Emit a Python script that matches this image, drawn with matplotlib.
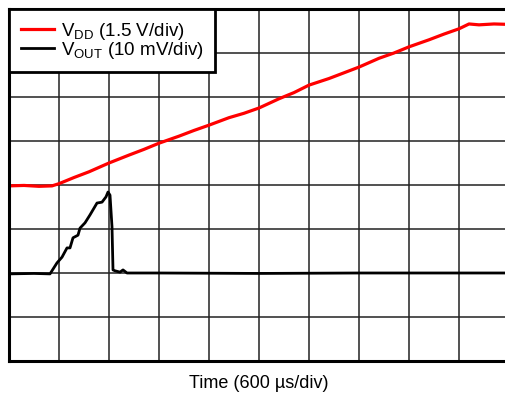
import numpy as np
import matplotlib.pyplot as plt

plt.rcParams['font.family'] = ['Liberation Sans', 'DejaVu Sans']
plt.rcParams['mathtext.fontset'] = 'custom'
plt.rcParams['mathtext.rm'] = 'Liberation Sans'

# Scope traces, in divisions (x: 10 div, y: 8 div)
vdd_t = [0.0, 0.3, 0.6, 0.86, 1.0, 1.3, 1.6, 2.0, 2.4, 2.7, 3.0, 3.4, 3.7,
         4.0, 4.4, 4.7, 5.0, 5.4, 5.7, 6.0, 6.4, 6.7, 7.0, 7.4, 7.7, 8.0,
         8.4, 8.7, 9.0, 9.2, 9.4, 9.7, 10.0]
vdd_v = [3.98, 3.99, 3.97, 3.98, 4.03, 4.17, 4.30, 4.50, 4.68, 4.81, 4.95,
         5.11, 5.24, 5.36, 5.53, 5.63, 5.75, 5.96, 6.10, 6.27, 6.42, 6.55,
         6.68, 6.88, 7.00, 7.14, 7.30, 7.43, 7.55, 7.66, 7.64, 7.66, 7.65]

vout_t = [0.0, 0.5, 0.82, 0.96, 1.06, 1.16, 1.22, 1.28, 1.38, 1.42, 1.52,
          1.62, 1.76, 1.86, 1.94, 1.98, 2.02, 2.06, 2.08, 2.12, 2.22, 2.28,
          2.36, 3.0, 5.0, 7.0, 10.0]
vout_v = [1.98, 1.99, 1.98, 2.23, 2.36, 2.57, 2.57, 2.80, 2.86, 3.02, 3.14,
          3.32, 3.59, 3.61, 3.73, 3.84, 3.77, 3.05, 2.07, 2.05, 2.02, 2.07,
          2.00, 2.00, 1.99, 2.00, 2.00]

fig = plt.figure(figsize=(5.05, 3.96), dpi=100)
ax = fig.add_axes([9 / 505, 35 / 396, 500 / 505, 352 / 396])

ax.plot(vdd_t, vdd_v, color='#ff0000', lw=2.3, label=r'V$_{\mathregular{DD}}$ (1.5 V/div)')
ax.plot(vout_t, vout_v, color='black', lw=2.0, label=r'V$_{\mathregular{OUT}}$ (10 mV/div)')

ax.set_xlim(0, 10)
ax.set_ylim(0, 8)
ax.set_xticks(np.arange(0, 11, 1))
ax.set_yticks(np.arange(0, 9, 1))
ax.tick_params(length=0, labelbottom=False, labelleft=False)
ax.grid(color='#222222', lw=1.1)
ax.set_axisbelow(True)
for s in ax.spines.values():
    s.set_linewidth(2.2)

ax.set_xlabel('Time (600 µs/div)', fontsize=13, labelpad=10)

leg = ax.legend(loc='upper left', bbox_to_anchor=(0, 1), borderaxespad=0,
                fancybox=False, framealpha=1, edgecolor='black',
                fontsize=13.5, handlelength=1.8, handletextpad=0.35,
                labelspacing=-0.1, borderpad=0.62)
leg.get_frame().set_linewidth(2.0)

fig.savefig('out.png', dpi=100)
